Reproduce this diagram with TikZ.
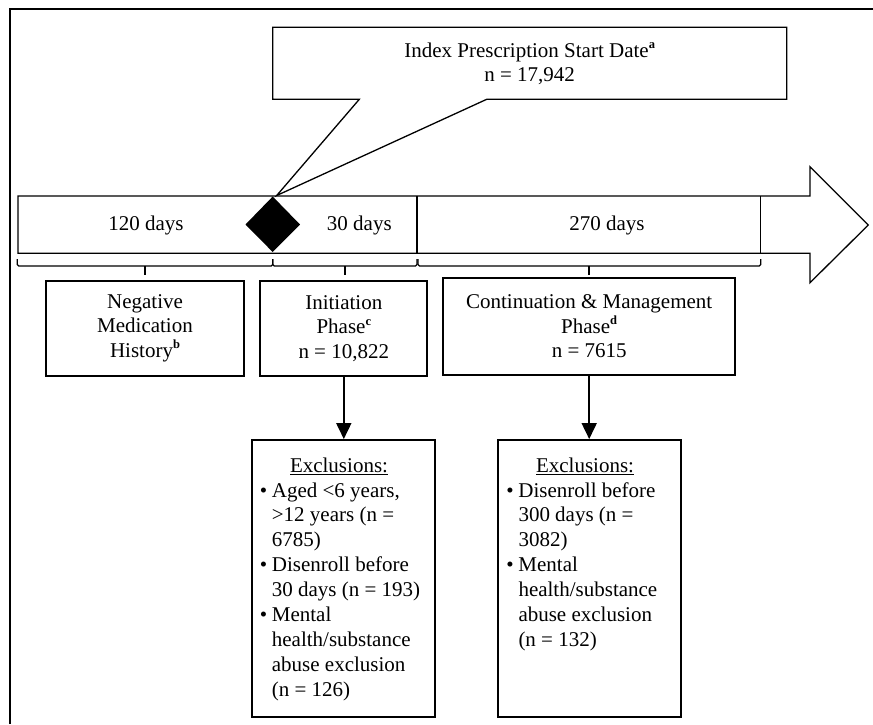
\documentclass[tikz,border=0pt]{standalone}
\usepackage{fontspec}
\setmainfont{Liberation Serif}
\usetikzlibrary{arrows.meta}
\newcommand{\exbul}{\leavevmode\llap{\textbullet\hspace{4.7pt}}}
\newcommand{\supb}[1]{\raisebox{0.41em}{\fontsize{12.5}{12.5}\selectfont\bfseries #1}}
\begin{document}
\begin{tikzpicture}[x=1pt,y=-1pt,
  every node/.style={font=\fontsize{21}{24.3}\selectfont, inner sep=0pt},
  pbox/.style={draw, line width=1.8pt, align=center},
  exbox/.style={draw, line width=1.8pt, minimum width=183pt, minimum height=276.7pt},
  thinline/.style={line width=1.3pt},
  brace/.style={line width=1.3pt, rounded corners=1.5pt},
  flow/.style={line width=1.8pt, -{Triangle[width=15pt,length=16pt]}},
  lbl/.style={anchor=center}]
\useasboundingbox (0,0) rectangle (873,724);
% outer frame
\draw[line width=1.8pt, line cap=butt] (10,724) -- (10,9.3) -- (873,9.3);
% callout
\draw[thinline, line join=miter] (272.7,27.3) -- (786.7,27.3) -- (786.7,99.3) -- (486.7,99.3) -- (276.7,195.5) -- (359.3,99.3) -- (272.7,99.3) -- cycle;
\node[align=center] (idx) at (529.7,64) {Index Prescription Start Date\supb{a}\\n = 17,942};
% timeline arrow
\draw[thinline, line join=miter] (18,196) -- (810,196) -- (810,166.7) -- (868.3,225) -- (810,282.7) -- (810,253.3) -- (18,253.3) -- cycle;
\draw[thinline] (417,196) -- (417,253.3);
\draw[thinline] (760.7,196) -- (760.7,253.3);
\fill (272.7,196.5) -- (300,224.5) -- (272.7,252) -- (245.5,224.5) -- cycle;
\node[lbl] (d120) at (146,225) {120 days};
\node[lbl] (d30) at (359.3,225) {30 days};
\node[lbl] (d270) at (607,225) {270 days};
% brackets
\draw[brace] (17.3,259) -- (17.3,266) -- (272.7,266) -- (272.7,259);
\draw[thinline] (145,266) -- (145,275);
\draw[brace] (272.7,259) -- (272.7,266) -- (417,266) -- (417,259);
\draw[thinline] (345,266) -- (345,275);
\draw[brace] (418,259) -- (418,266) -- (760.7,266) -- (760.7,259);
\draw[thinline] (589,266) -- (589,275);
% phase boxes
\node[pbox, minimum width=198.6pt, minimum height=95pt] (neg) at (145,328.2) {Negative\\Medication\\History\supb{b}};
\node[pbox, minimum width=167pt, minimum height=95.6pt] (init) at (343.8,328.5) {Initiation\\Phase\supb{c}\\n = 10,822};
\node[pbox, minimum width=291.7pt, minimum height=97.3pt] (cont) at (589.2,326.3) {Continuation \& Management\\Phase\supb{d}\\n = 7615};
% exclusion boxes
\node[exbox] (ex1) at (343.8,578.3) {};
\node[exbox] (ex2) at (589.2,578.3) {};
\draw[flow] (init.south) -- (ex1.north);
\draw[flow] (cont.south) -- (ex2.north);
\node[anchor=base] (exh1) at (339,472) {\underline{Exclusions:}};
\node[anchor=base west] (exl1) at (271.7,497) {\begin{minipage}[t]{160pt}\fontsize{21}{24.9}\selectfont\raggedright
\exbul Aged <6 years,\\
>12 years (n =\\
6785)\\
\exbul Disenroll before\\
30 days (n = 193)\\
\exbul Mental\\
health/substance\\
abuse exclusion\\
(n = 126)\end{minipage}};
\node[anchor=base] (exh2) at (585,472) {\underline{Exclusions:}};
\node[anchor=base west] (exl2) at (518.3,497) {\begin{minipage}[t]{155pt}\fontsize{21}{24.9}\selectfont\raggedright
\exbul Disenroll before\\
300 days (n =\\
3082)\\
\exbul Mental\\
health/substance\\
abuse exclusion\\
(n = 132)\end{minipage}};
\end{tikzpicture}
\end{document}
